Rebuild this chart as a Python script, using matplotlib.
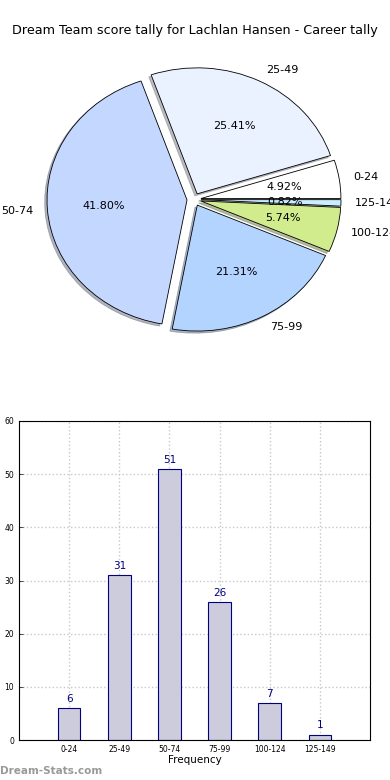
import matplotlib
matplotlib.use("Agg")
import matplotlib.pyplot as plt

# data
categories = ['0-24', '25-49', '50-74', '75-99', '100-124', '125-149']
counts = [6, 31, 51, 26, 7, 1]
pie_colors = ['#ffffff', '#eaf1ff', '#c4d8ff', '#b3d4ff', '#d0ec8c', '#c8eeff']
bar_color = '#ccccdd'
edge_color = '#000080'

fig = plt.figure(figsize=(3.9, 7.8), dpi=100)
fig.text(0.5, 0.961, 'Dream Team score tally for Lachlan Hansen - Career tally',
         ha='center', va='center', fontsize=9.2)

# pie (old style, stretched to fill the axes)
ax1 = fig.add_axes([19 / 390, (780 - 357) / 780, 350 / 390, 315 / 780])
wedges, texts, autotexts = ax1.pie(
    counts, labels=categories, colors=pie_colors, explode=[0.05] * len(counts),
    autopct='%1.2f%%', shadow={'ox': -0.012, 'oy': -0.012, 'shade': 0.5},
    startangle=0,
    wedgeprops={'edgecolor': 'black', 'linewidth': 0.6},
    textprops={'fontsize': 8})
ax1.set_aspect('auto')
ax1.set_xlim(-1.25, 1.25)
ax1.set_ylim(-1.25, 1.25)

# bar chart
ax2 = fig.add_axes([19 / 390, 40 / 780, 351 / 390, 319 / 780])
x = range(len(categories))
ax2.bar(x, counts, width=0.45, color=bar_color, edgecolor=edge_color,
        linewidth=0.8, zorder=2)
for i, v in zip(x, counts):
    ax2.text(i, v + 0.8, str(v), ha='center', va='bottom', color=edge_color,
             fontsize=7.5)
ax2.set_xlim(-1, 6)
ax2.set_ylim(0, 60)
ax2.set_xticks(list(x))
ax2.set_xticklabels(categories)
ax2.set_yticks(range(0, 61, 10))
ax2.tick_params(direction='in', labelsize=5.5, length=3, width=0.5)
ax2.grid(True, linestyle=':', color='#c8c8c8', linewidth=1, zorder=0)
ax2.set_axisbelow(True)
ax2.set_xlabel('Frequency', fontsize=7.5, labelpad=1)
for s in ax2.spines.values():
    s.set_linewidth(0.8)

fig.text(0.0, 0.012, 'Dream-Stats.com', color='#999999', fontsize=7.5,
         fontweight='bold', ha='left', va='center')

fig.savefig('out.png', dpi=100)
